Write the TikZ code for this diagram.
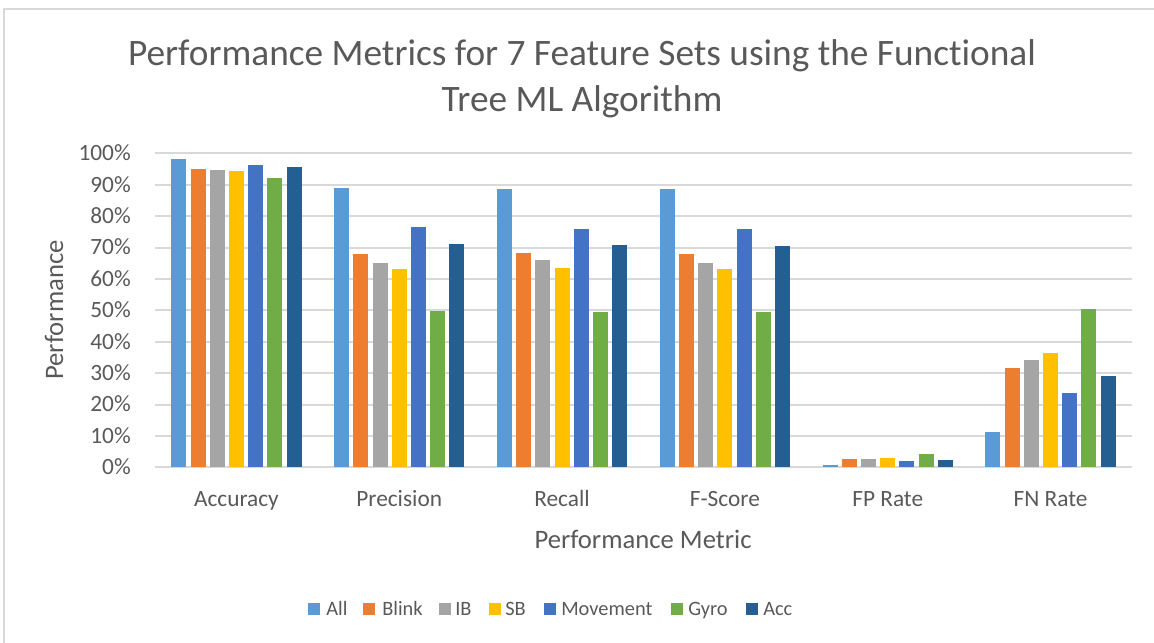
\documentclass[tikz,border=0pt]{standalone}
\usepackage{fontspec}
\setmainfont{Carlito}[Ligatures=NoCommon]
\usepackage{tikz}

\definecolor{txtgray}{HTML}{595959}
\definecolor{gridgray}{HTML}{D9D9D9}
\definecolor{serA}{HTML}{5B9BD5}
\definecolor{serB}{HTML}{ED7D31}
\definecolor{serC}{HTML}{A5A5A5}
\definecolor{serD}{HTML}{FFC000}
\definecolor{serE}{HTML}{4472C4}
\definecolor{serF}{HTML}{70AD47}
\definecolor{serG}{HTML}{255E91}

\begin{document}
\begin{tikzpicture}[
      x=0.75pt, y=-0.75pt,
      grid/.style={draw=gridgray, line width=1.5pt},
      ticklbl/.style={text=txtgray, font=\fontsize{17.5}{20}\selectfont, inner sep=0pt},
      leglbl/.style={text=txtgray, font=\fontsize{15.3}{18}\selectfont, inner sep=0pt, anchor=base west},
      axtitle/.style={text=txtgray, font=\fontsize{20}{24}\selectfont, inner sep=0pt},
      legbox/.style={minimum size=9pt, inner sep=0pt}
    ]
      \useasboundingbox (0,0) rectangle (1154,643);
      \draw[gridgray, line width=1pt] (4,643) -- (4,9) -- (1154,9);

      % title
      \node (title1) at (582,65) [anchor=base, text=txtgray, font=\fontsize{28}{34}\selectfont, inner sep=0pt]
        {Performance Metrics for 7 Feature Sets using the Functional};
      \node (title2) at (582,111) [anchor=base, text=txtgray, font=\fontsize{28}{34}\selectfont, inner sep=0pt]
        {Tree ML Algorithm};

      % grid and ticks
      \foreach \t in {0,10,...,100} {
        \draw[grid] (155,467.3-3.14*\t) -- (1132,467.3-3.14*\t);
        \node (tick\t) at (131,467.3-3.14*\t+7.4) [ticklbl, anchor=base east] {\t\%};
      }

      % bars
      \foreach \i/\va/\vb/\vc/\vd/\ve/\vf/\vg in {
          0/98.2/95.0/94.7/94.4/96.3/92.2/95.5,
          1/88.9/67.9/65.1/63.3/76.4/49.8/71.2,
          2/88.6/68.3/65.9/63.5/76.0/49.5/70.7,
          3/88.6/67.9/65.2/63.2/76.0/49.4/70.6,
          4/0.8/2.5/2.6/2.9/1.9/4.2/2.3,
          5/11.2/31.5/34.1/36.3/23.8/50.4/29.1} {
        \foreach \k/\v/\c in {0/\va/serA, 1/\vb/serB, 2/\vc/serC, 3/\vd/serD,
                              4/\ve/serE, 5/\vf/serF, 6/\vg/serG} {
          \fill[\c] (155+162.83*\i+81.4+19.2*\k-57.6-7.5,467.3) rectangle
                    (155+162.83*\i+81.4+19.2*\k-57.6+7.5,467.3-3.14*\v);
        }
      }

      % category labels
      \foreach \lbl [count=\i from 0] in {Accuracy,Precision,Recall,F-Score,FP Rate,FN Rate} {
        \node (cat\i) at (155+162.83*\i+81.4,506) [ticklbl, anchor=base] {\lbl};
      }

      % axis titles
      \node (xtitle) at (643,548) [axtitle, anchor=base] {Performance Metric};
      \node (ytitle) at (63,310) [axtitle, anchor=base, rotate=90] {Performance};

      % legend
      \node (legA) at (314,609) [legbox, fill=serA] {};
      \node (legB) at (369,609) [legbox, fill=serB] {};
      \node (legC) at (445,609) [legbox, fill=serC] {};
      \node (legD) at (495,609) [legbox, fill=serD] {};
      \node (legE) at (550,609) [legbox, fill=serE] {};
      \node (legF) at (677,609) [legbox, fill=serF] {};
      \node (legG) at (752,609) [legbox, fill=serG] {};
      \node (txtA) at (326,615) [leglbl] {All};
      \node (txtB) at (382,615) [leglbl] {Blink};
      \node (txtC) at (455,615) [leglbl] {IB};
      \node (txtD) at (505,615) [leglbl] {SB};
      \node (txtE) at (561,615) [leglbl] {Movement};
      \node (txtF) at (688,615) [leglbl] {Gyro};
      \node (txtG) at (763,615) [leglbl] {Acc};
    \end{tikzpicture}
\end{document}
